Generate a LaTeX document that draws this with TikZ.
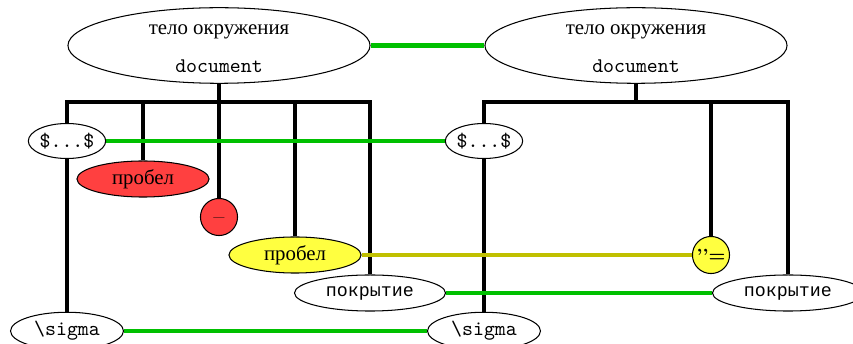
\documentclass[tikz,border=0pt]{standalone}
\usepackage{fontspec}
\setmainfont{Liberation Serif}
\newfontfamily\lmr{Latin Modern Roman}
\newfontfamily\cyrtt{Liberation Mono}[Scale=0.88]
\usetikzlibrary{shapes.geometric}
\pgfdeclarelayer{bg}
\pgfsetlayers{bg,main}
\definecolor{lgreen}{RGB}{0,192,0}
\definecolor{olivel}{RGB}{192,192,0}
\definecolor{redf}{RGB}{255,64,64}
\definecolor{yelf}{RGB}{255,255,64}
\begin{document}
\begin{tikzpicture}[x=0.48pt,y=-0.48pt,
  nd/.style={ellipse,draw,line width=0.5pt,inner sep=0pt,fill=white,font=\fontsize{10}{12}\selectfont},
  topnd/.style={nd,minimum width=145pt,minimum height=36pt,align=center},
  dolnd/.style={nd,minimum width=35.5pt,minimum height=16.8pt,font=\ttfamily},
  pbnd/.style={nd,minimum width=63.4pt,minimum height=17.3pt},
  circnd/.style={nd,circle,minimum size=17.8pt},
  pknd/.style={nd,minimum width=72.5pt,minimum height=17.3pt,font=\cyrtt},
  sgnd/.style={nd,minimum width=54.2pt,minimum height=18pt,font=\ttfamily},
  tree/.style={line width=2pt,black},
  link/.style={line width=2pt,lgreen},
  olink/.style={line width=2pt,olivel}]
\useasboundingbox (0,0) rectangle (853,344);
\node[topnd] (t1) at (219,45.5) {\rule{0pt}{7.6pt}тело окружения\\[6pt]\texttt{document}};
\node[topnd] (t2) at (636,45.5) {\rule{0pt}{7.6pt}тело окружения\\[6pt]\texttt{document}};
\node[dolnd] (d1) at (67,141) {\$...\$};
\node[dolnd] (d2) at (484,141) {\$...\$};
\node[pbnd,fill=redf] (r1) at (143,179) {пробел};
\node[circnd,fill=redf] (r2) at (219,217) {\lmr\fontsize{6}{6}\selectfont\_};
\node[pbnd,fill=yelf] (y1) at (295,255) {пробел};
\node[circnd,fill=yelf] (y2) at (711,255) {\lmr\fontsize{8.5}{9}\selectfont\bfseries ’’=};
\node[pknd] (k1) at (370,293) {покрытие};
\node[pknd] (k2) at (788,293) {покрытие};
\node[sgnd] (s1) at (67,331) {\textbackslash sigma};
\node[sgnd] (s2) at (484,331) {\textbackslash sigma};
\coordinate (b1) at (219,102);
\coordinate (b2) at (636,102);
\begin{pgfonlayer}{bg}
\draw[tree] (t1.south) -- (b1);
\draw[tree] (b1) -| (d1.north);
\draw[tree] (b1) -| (r1.north);
\draw[tree] (b1) -- (r2.north);
\draw[tree] (b1) -| (y1.north);
\draw[tree] (b1) -| (k1.north);
\draw[tree] (d1.south) -- (s1.north);
\draw[tree] (t2.south) -- (b2);
\draw[tree] (b2) -| (d2.north);
\draw[tree] (b2) -| (y2.north);
\draw[tree] (b2) -| (k2.north);
\draw[tree] (d2.south) -- (s2.north);
\draw[link] (t1.east) -- (t2.west);
\draw[link] (d1.east) -- (d2.west);
\draw[link] (k1.east) -- (k2.west);
\draw[link] (s1.east) -- (s2.west);
\draw[olink] (y1.east) -- (y2.west);
\end{pgfonlayer}
\end{tikzpicture}
\end{document}
